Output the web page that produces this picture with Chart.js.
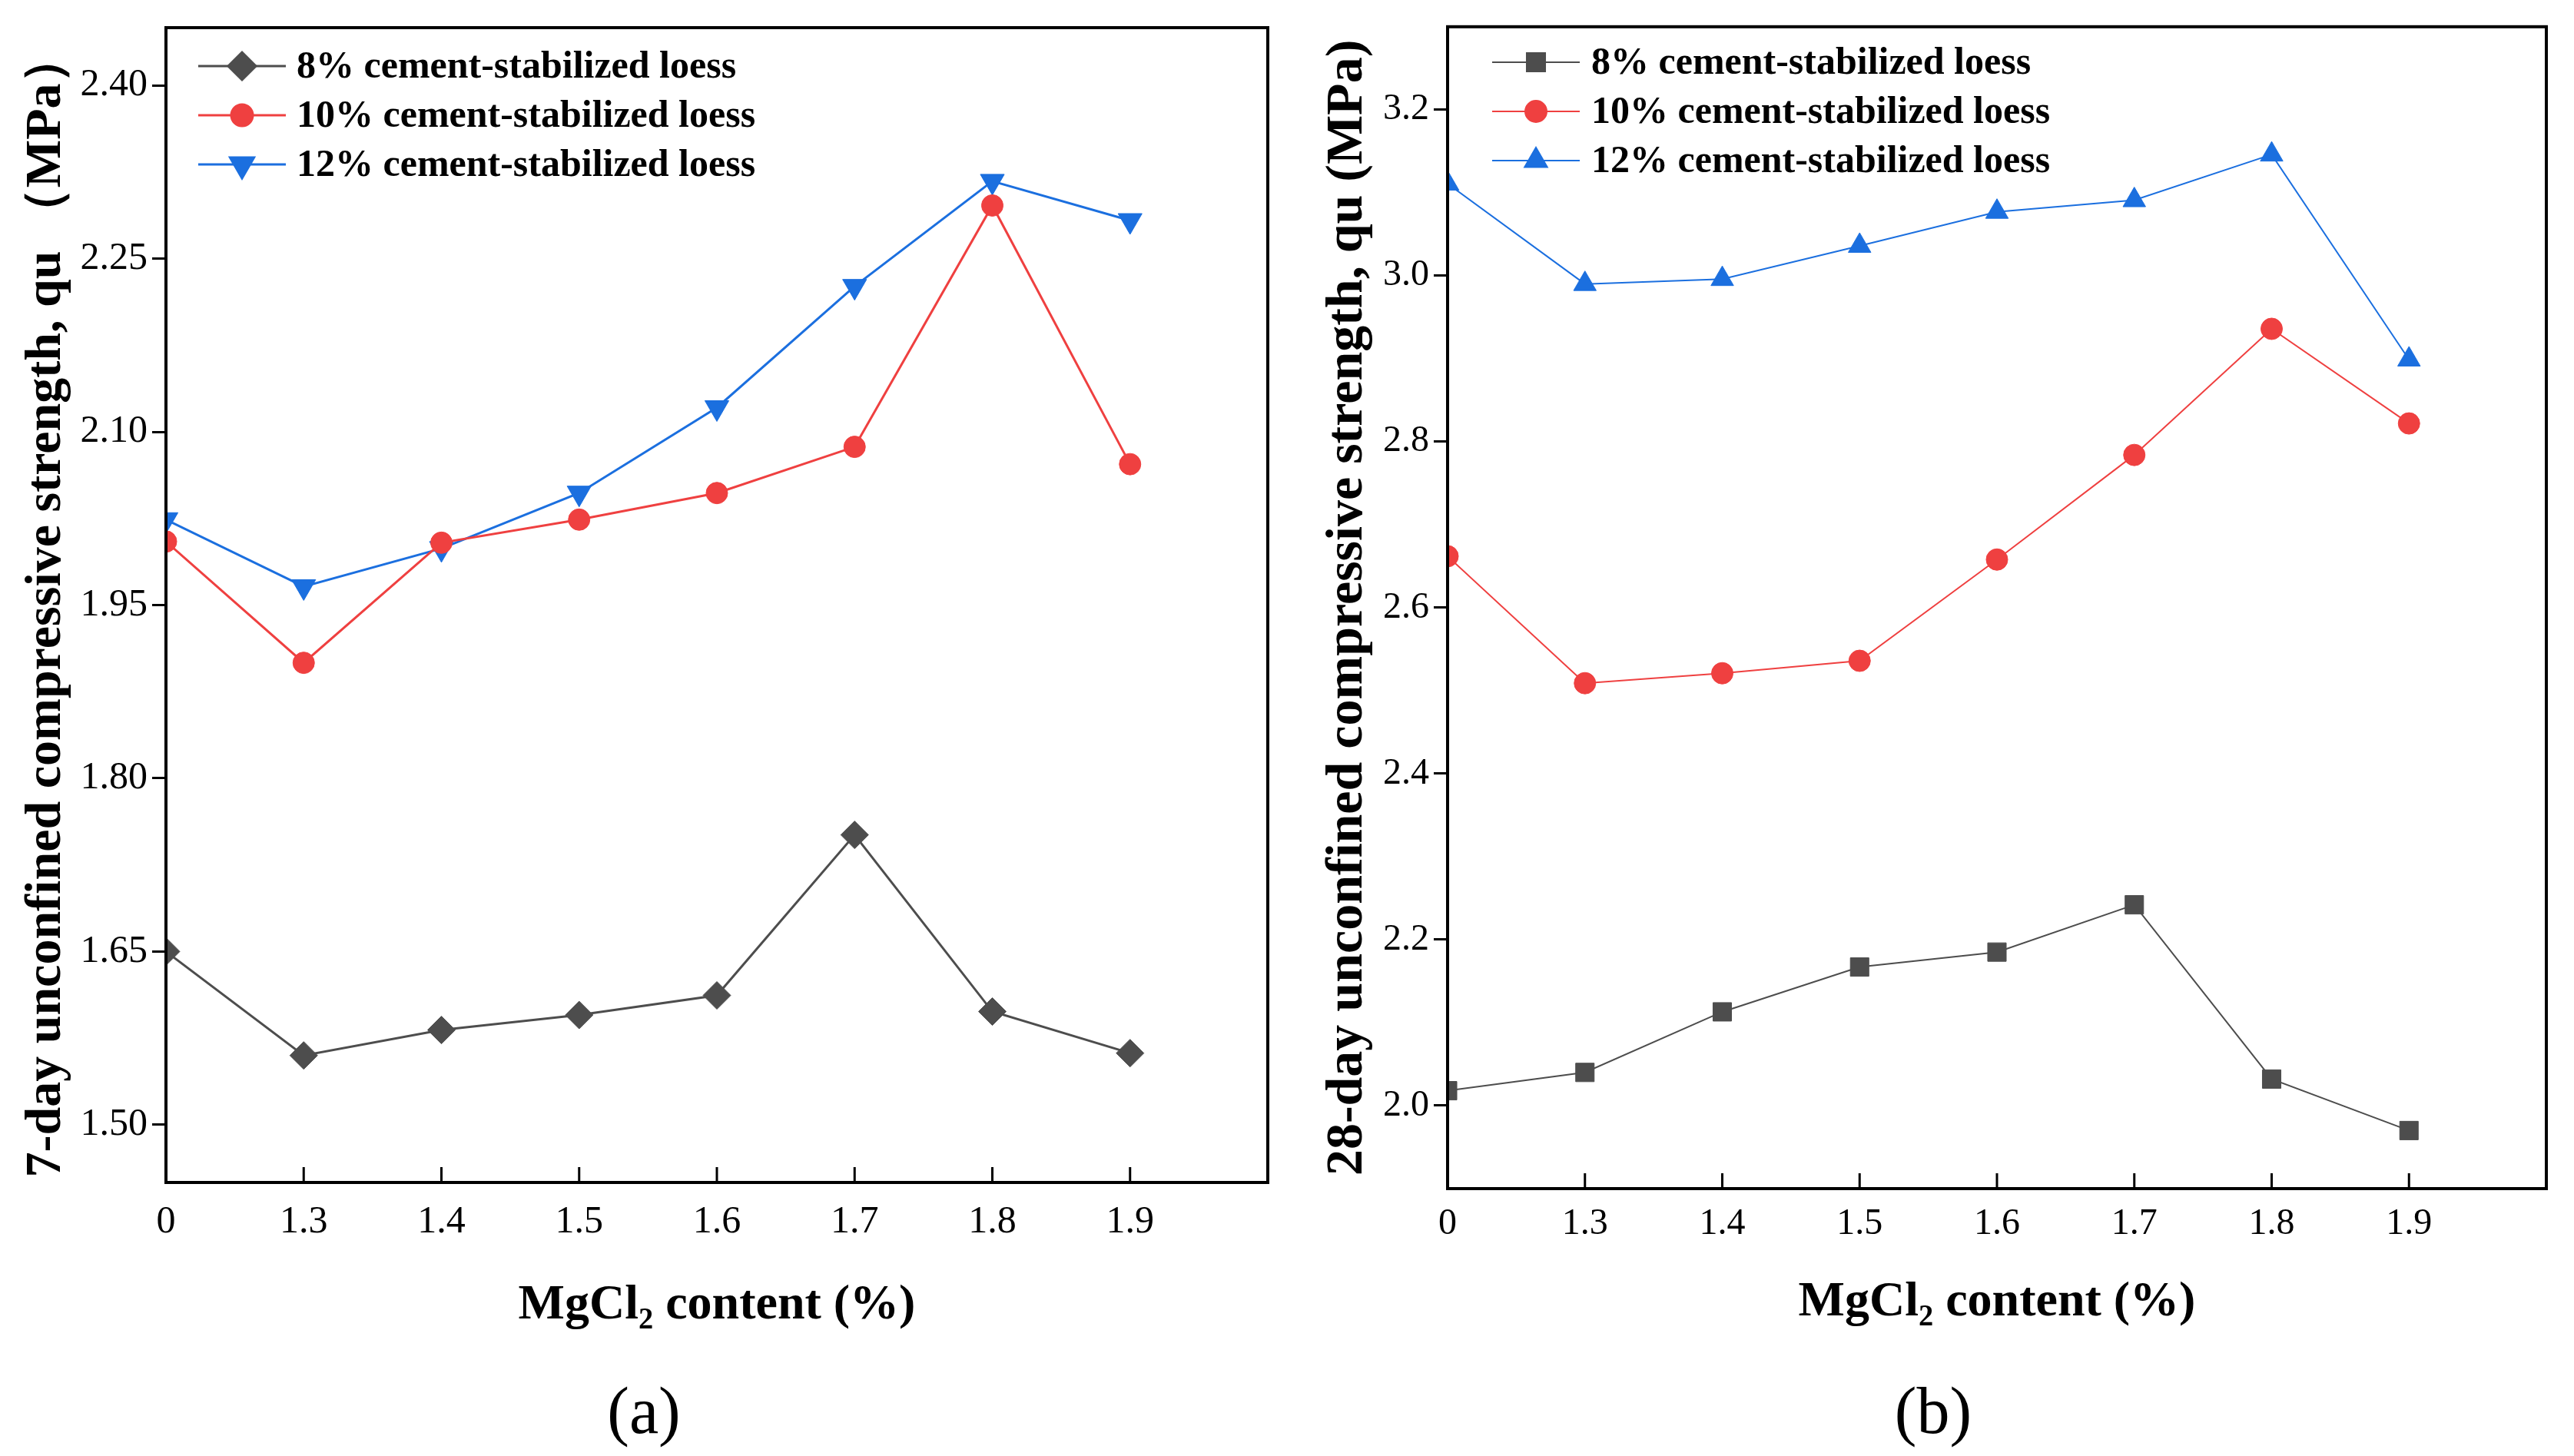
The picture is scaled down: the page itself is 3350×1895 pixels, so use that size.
<!DOCTYPE html>
<html><head><meta charset="utf-8">
<script src="https://cdn.jsdelivr.net/npm/chart.js@4.4.1/dist/chart.umd.min.js"></script>
<style>
html,body{margin:0;padding:0;background:#fff;}
body{width:3350px;height:1895px;position:relative;overflow:hidden;}
#wa{position:absolute;left:0;top:0;width:1690px;height:1760px;}
#wb{position:absolute;left:1690px;top:0;width:1660px;height:1760px;}
.cap{position:absolute;font-family:'Liberation Serif',serif;font-size:86px;line-height:1;transform:translate(-50%,-50%);color:#000;}
</style></head><body>
<div id="wa"><canvas id="ca"></canvas></div>
<div id="wb"><canvas id="cb"></canvas></div>
<div class="cap" style="left:838px;top:1836px">(a)</div>
<div class="cap" style="left:2516px;top:1836px">(b)</div>
<script>
// ---- data ----
const categories = ['0', '1.3', '1.4', '1.5', '1.6', '1.7', '1.8', '1.9'];
const seriesNames = ['8% cement-stabilized loess', '10% cement-stabilized loess', '12% cement-stabilized loess'];
const day7_cement8  = [1.650, 1.560, 1.582, 1.595, 1.612, 1.751, 1.598, 1.562];
const day7_cement10 = [2.005, 1.900, 2.004, 2.024, 2.047, 2.087, 2.296, 2.072];
const day7_cement12 = [2.024, 1.966, 1.999, 2.047, 2.121, 2.226, 2.317, 2.283];
const day28_cement8  = [2.018, 2.040, 2.113, 2.167, 2.185, 2.242, 2.032, 1.970];
const day28_cement10 = [2.662, 2.509, 2.521, 2.536, 2.658, 2.784, 2.936, 2.822];
const day28_cement12 = [3.111, 2.990, 2.996, 3.036, 3.077, 3.091, 3.146, 2.899];
const yTicks7 = [1.50, 1.65, 1.80, 1.95, 2.10, 2.25, 2.40];
const yTicks28 = [2.0, 2.2, 2.4, 2.6, 2.8, 3.0, 3.2];
const xTitle = 'MgCl\u2082 content (%)';
const yTitle7 = '7-day unconfined compressive strength, qu \uFF08MPa\uFF09';
const yTitle28 = '28-day unconfined compressive strength, qu (MPa)';

const GRAY = '#4D4D4D', RED = '#EF4040', BLUE = '#1B6FDF';
const SERIF = "'Liberation Serif', 'Times New Roman', serif";

function toPts(arr) { return arr.map((v, i) => ({x: i, y: v})); }

function ds(label, data, color, style, rot, radius, lw) {
  return {
    label: label, data: toPts(data), borderColor: color, backgroundColor: color,
    borderWidth: lw, pointStyle: style, pointRotation: rot, pointRadius: radius,
    pointHoverRadius: radius, pointBackgroundColor: color, pointBorderColor: color,
    pointBorderWidth: 1, tension: 0, fill: false
  };
}

const boxPlugin = {
  id: 'boxPlugin',
  afterDraw(chart, args, o) {
    const ctx = chart.ctx, a = chart.chartArea, xs = chart.scales.x;
    ctx.save();
    // inner x ticks
    ctx.strokeStyle = '#000'; ctx.lineWidth = 3;
    for (let i = 1; i < categories.length; i++) {
      const px = xs.getPixelForValue(i);
      ctx.beginPath(); ctx.moveTo(px, a.bottom); ctx.lineTo(px, a.bottom - 20); ctx.stroke();
    }
    // frame
    ctx.lineWidth = 4;
    ctx.strokeRect(a.left, a.top, a.right - a.left, a.bottom - a.top);
    // legend
    const L = o.legend;
    chart.data.datasets.forEach((d, i) => {
      const y = L.y0 + i * L.dy;
      ctx.strokeStyle = d.borderColor; ctx.lineWidth = d.borderWidth;
      ctx.beginPath(); ctx.moveTo(L.x1, y); ctx.lineTo(L.x2, y); ctx.stroke();
      ctx.fillStyle = d.borderColor; ctx.strokeStyle = d.borderColor;
      Chart.helpers.drawPoint(ctx, {pointStyle: d.pointStyle, rotation: d.pointRotation, radius: d.pointRadius, borderWidth: 1}, (L.x1 + L.x2) / 2, y);
      ctx.fillStyle = '#000';
      ctx.font = 'bold 50px ' + SERIF;
      ctx.textBaseline = 'middle'; ctx.textAlign = 'left';
      ctx.fillText(d.label, L.tx, y + 2);
    });
    ctx.restore();
  }
};

function makeChart(id, cfg) {
  return new Chart(document.getElementById(id), {
    type: 'line',
    data: {datasets: cfg.datasets},
    plugins: [boxPlugin],
    options: {
      responsive: true, maintainAspectRatio: false, animation: false,
      layout: {padding: {top: 32, right: cfg.padR, bottom: 0, left: 0}},
      plugins: {legend: {display: false}, tooltip: {enabled: false}, boxPlugin: {legend: cfg.legend}},
      scales: {
        x: {
          type: 'linear', min: 0, max: 8,
          afterBuildTicks: s => { s.ticks = categories.map((c, i) => ({value: i})); },
          afterFit: s => { s.height = cfg.xh; },
          ticks: {callback: v => categories[v], color: '#000', font: {family: SERIF, size: cfg.tickSize}, padding: cfg.xPad, maxRotation: 0, autoSkip: false},
          grid: {display: false, drawTicks: false},
          border: {display: true, color: '#000', width: 4},
          title: {display: true, text: xTitle, color: '#000', font: {family: SERIF, size: 64, weight: 'bold'}, padding: {top: 0, bottom: cfg.xtPad}}
        },
        y: {
          type: 'linear', min: cfg.yMin, max: cfg.yMax,
          afterBuildTicks: s => { s.ticks = cfg.yTicks.map(v => ({value: v})); },
          afterFit: s => { s.width = cfg.yw; },
          ticks: {callback: v => Number(v).toFixed(cfg.dec), color: '#000', font: {family: SERIF, size: cfg.tickSize}, padding: 6, autoSkip: false},
          grid: {display: true, drawOnChartArea: false, drawTicks: true, tickLength: 18, tickColor: '#000', tickWidth: 3},
          border: {display: true, color: '#000', width: 4},
          title: {display: true, text: cfg.yTitle, color: '#000', font: {family: SERIF, size: cfg.ytSize, weight: 'bold'}, padding: {top: cfg.ytPad, bottom: 0}}
        }
      }
    }
  });
}

makeChart('ca', {
  datasets: [
    ds(seriesNames[0], day7_cement8, GRAY, 'rectRot', 0, 18, 3),
    ds(seriesNames[1], day7_cement10, RED, 'circle', 0, 14, 3),
    ds(seriesNames[2], day7_cement12, BLUE, 'triangle', 180, 18, 3)
  ],
  yMin: 1.45, yMax: 2.45, yTicks: yTicks7, dec: 2, yTitle: yTitle7, ytSize: 66,
  padR: 40, yw: 216, xh: 221, tickSize: 50, xPad: 22, xtPad: 22, ytPad: 21,
  legend: {x1: 258, x2: 372, tx: 386, y0: 86, dy: 64}
});

makeChart('cb', {
  datasets: [
    ds(seriesNames[0], day28_cement8, GRAY, 'rect', 0, 17, 2),
    ds(seriesNames[1], day28_cement10, RED, 'circle', 0, 14, 2),
    ds(seriesNames[2], day28_cement12, BLUE, 'triangle', 0, 17, 2)
  ],
  yMin: 1.9, yMax: 3.3, yTicks: yTicks28, dec: 1, yTitle: yTitle28, ytSize: 68,
  padR: 36, yw: 194, xh: 213, tickSize: 48, xPad: 18, xtPad: 26, ytPad: 24,
  legend: {x1: 252, x2: 366, tx: 381, y0: 81, dy: 64}
});
</script>
</body></html>
